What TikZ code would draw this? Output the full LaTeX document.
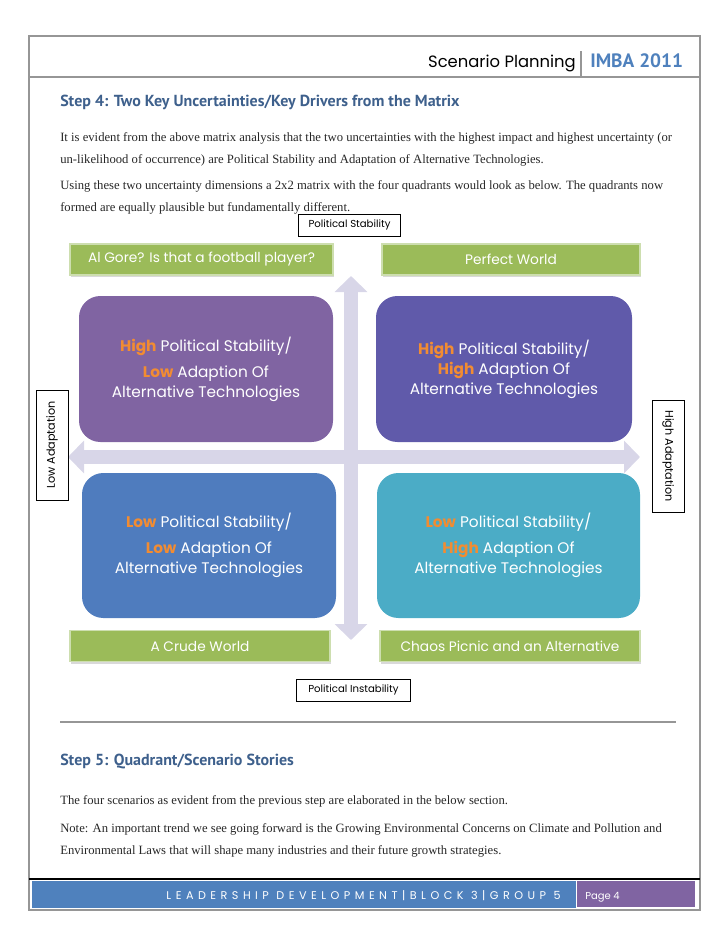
\documentclass[tikz,border=0pt]{standalone}
\usepackage{fontspec}
\setmainfont{Liberation Serif}
\newfontfamily\gothic{Poppins}
\newfontfamily\headsans{PT Sans}
\usepackage{xcolor}
\usepackage{tikz}
\usetikzlibrary{positioning, arrows.meta, shadows}

\definecolor{headblue}{RGB}{62,96,140}
\definecolor{imbablue}{RGB}{79,129,189}
\definecolor{framegray}{RGB}{150,150,150}
\definecolor{scengreen}{RGB}{155,187,89}
\definecolor{scenedge}{RGB}{205,222,175}
\definecolor{arrowlav}{RGB}{216,214,232}
\definecolor{quadpurple}{RGB}{128,100,162}
\definecolor{quadviolet}{RGB}{96,90,170}
\definecolor{quadblue}{RGB}{79,124,190}
\definecolor{quadteal}{RGB}{75,172,198}
\definecolor{hotorange}{RGB}{242,140,50}
\definecolor{footblue}{RGB}{79,129,189}
\definecolor{footpurple}{RGB}{128,100,162}

\newcommand{\hotword}[1]{{\bfseries\color{hotorange}#1}}

\begin{document}
\begin{tikzpicture}[
			x=0.75pt, y=-0.75pt,
			quad/.style={
				rounded corners=16pt,
				text=white,
				align=center,
				font=\gothic\fontsize{11.5}{15}\selectfont
			},
			scen/.style={
				fill=scengreen,
				draw=scenedge,
				line width=1.2pt,
				text=white,
				minimum height=23.5pt,
				font=\gothic\fontsize{10.3}{12}\selectfont,
				drop shadow={shadow xshift=0.8pt, shadow yshift=-1.5pt, opacity=0.3}
			},
			tag/.style={
				draw,
				fill=white,
				line width=0.6pt,
				minimum height=16.5pt,
				font=\gothic\fontsize{7.6}{9}\selectfont
			},
			sidetag/.style={
				draw,
				fill=white,
				line width=0.6pt,
				minimum height=24pt,
				font=\gothic\fontsize{8.4}{10}\selectfont
			},
			body/.style={
				anchor=base west,
				align=left,
				inner sep=0pt,
				text=black!85,
				font=\fontsize{9.5}{16.5}\selectfont
			},
			stephead/.style={
				anchor=base west,
				inner sep=0pt,
				text=headblue,
				font=\headsans\bfseries\fontsize{12}{14}\selectfont
			},
			bigarrow/.style={
				draw=arrowlav,
				line width=10.5pt,
				{Triangle[width=24pt,length=12pt]}-{Triangle[width=24pt,length=12pt]}
			}
			]
			
			\useasboundingbox (0,0) rectangle (728,943);
			
			% Page frame and header
			\draw[framegray, line width=1.5pt] (29,36) rectangle (700,910);
			\draw[framegray, line width=1.5pt] (29,77) -- (700,77);
			\draw[framegray, line width=1pt] (581,51) -- (581,77);
			\node[anchor=base east, inner sep=0pt, font=\gothic\fontsize{12.3}{14}\selectfont] (title) at (576,67) {Scenario Planning};
			\node[anchor=base west, inner sep=0pt, text=imbablue, font=\headsans\bfseries\fontsize{14.5}{16}\selectfont] (imba) at (590,67) {IMBA 2011};
			
			% Step 4 text
			\node[stephead] (step4) at (60,106) {Step 4: Two Key Uncertainties/Key Drivers from the Matrix};
			\node[body] (para1) at (60,163) {It is evident from the above matrix analysis that the two uncertainties with the highest impact and highest uncertainty (or\\un-likelihood of occurrence) are Political Stability and Adaptation of Alternative Technologies.};
			\node[body] (para2) at (60,211) {Using these two uncertainty dimensions a 2x2 matrix with the four quadrants would look as below. The quadrants now\\formed are equally plausible but fundamentally different.};
			
			% Axes
			\coordinate (vtop) at (351,276);
			\coordinate (vbot) at (351,640);
			\coordinate (hleft) at (68,457);
			\coordinate (hright) at (640,457);
			\draw[bigarrow] (vbot) -- (vtop);
			\draw[bigarrow] (hleft) -- (hright);
			
			% Quadrants
			\node[quad, fill=quadpurple, minimum width=190.5pt, minimum height=109.5pt] (hilo) at (206,369) {\hotword{High} Political Stability/\\[4.5pt]\hotword{Low} Adaption Of\\Alternative Technologies};
			\node[quad, fill=quadviolet, minimum width=192pt, minimum height=109.5pt] (hihi) at (504,369) {\hotword{High} Political Stability/\\\hotword{High} Adaption Of\\Alternative Technologies};
			\node[quad, fill=quadblue, minimum width=190.5pt, minimum height=108.75pt] (lolo) at (209,545.5) {\hotword{Low} Political Stability/\\[4.5pt]\hotword{Low} Adaption Of\\Alternative Technologies};
			\node[quad, fill=quadteal, minimum width=197.25pt, minimum height=108.75pt] (lohi) at (508.5,545.5) {\hotword{Low} Political Stability/\\[4.5pt]\hotword{High} Adaption Of\\Alternative Technologies};
			
			% Scenario names
			\node[scen, minimum width=197pt] (gore) at (201.5,259.5) {Al Gore? Is that a football player?};
			\node[scen, minimum width=193.5pt] (perfect) at (511,259.5) {Perfect World};
			\node[scen, minimum width=195pt] (crude) at (200,646) {A Crude World};
			\node[scen, minimum width=195pt] (chaos) at (510,646) {Chaos Picnic and an Alternative};
			
			% Axis labels
			\node[tag, minimum width=77pt] (stable) at (349.5,225) {Political Stability};
			\node[tag, minimum width=85pt] (unstable) at (353.5,690) {Political Instability};
			\node[sidetag, rotate=90, minimum width=82.5pt] (lowad) at (52,445) {Low Adaptation};
			\node[sidetag, rotate=-90, minimum width=84pt] (highad) at (668,456) {High Adaptation};
			
			% Step 5 text
			\draw[framegray, line width=1.5pt] (60,722) -- (676,722);
			\node[stephead] (step5) at (60,765) {Step 5: Quadrant/Scenario Stories};
			\node[body] (para3) at (60,804) {The four scenarios as evident from the previous step are elaborated in the below section.};
			\node[body] (para4) at (60,854) {Note: An important trend we see going forward is the Growing Environmental Concerns on Climate and Pollution and\\Environmental Laws that will shape many industries and their future growth strategies.};
			
			% Footer
			\draw[black, line width=1pt] (29,879) -- (700,879);
			\node[fill=footblue, minimum width=408pt, minimum height=20.25pt, inner sep=0pt] (footbar) at (304,894.5) {};
			\node[fill=footpurple, minimum width=88.5pt, minimum height=19.5pt, inner sep=0pt] (pagebar) at (636,894) {};
			\node[anchor=base east, inner sep=0pt, text=white, font=\gothic\addfontfeatures{LetterSpace=40}\fontsize{8.4}{10}\selectfont] (foottext) at (561,899) {LEADERSHIP DEVELOPMENT|BLOCK 3|GROUP 5};
			\node[anchor=base west, inner sep=0pt, text=white, font=\gothic\fontsize{7.5}{9}\selectfont] (pagenum) at (585,899) {Page 4};
			
		\end{tikzpicture}
\end{document}
